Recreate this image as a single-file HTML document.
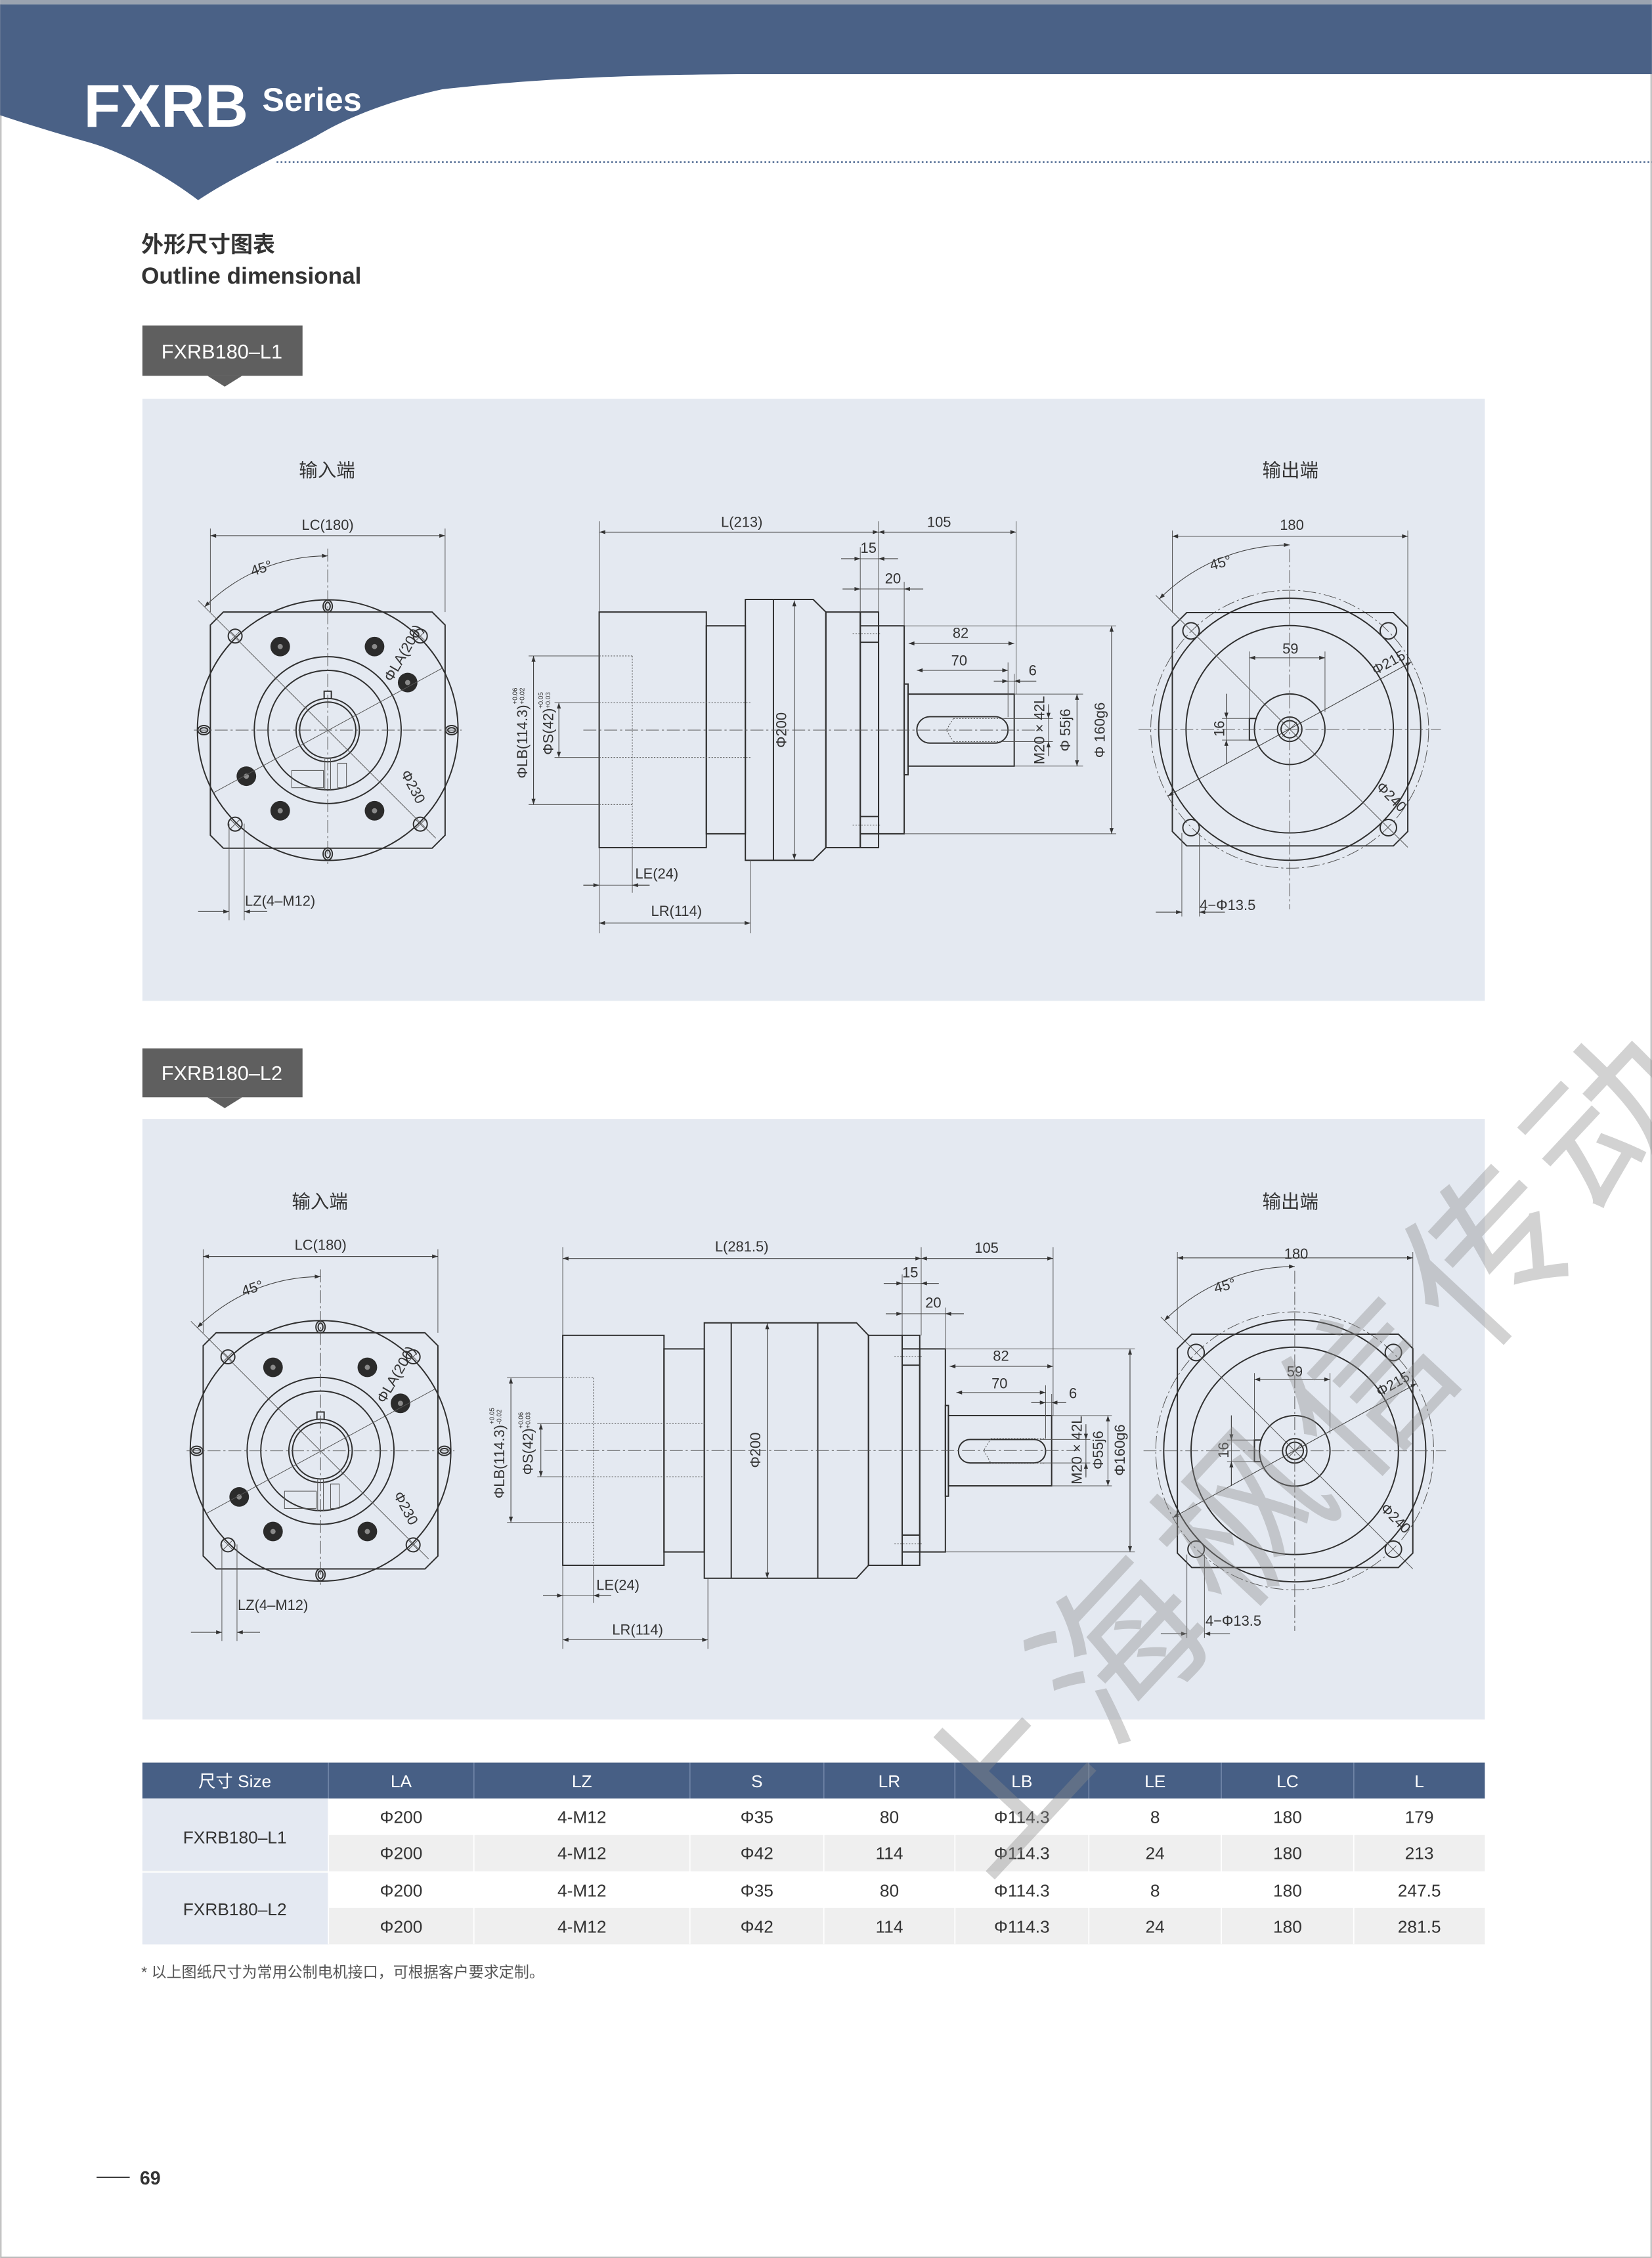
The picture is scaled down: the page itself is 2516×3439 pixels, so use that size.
<!DOCTYPE html>
<html><head><meta charset="utf-8"><style>
html,body{margin:0;padding:0;background:#fff}
svg{display:block}
.o{fill:none;stroke:#2f2f2f;stroke-width:0.9}
.t{fill:none;stroke:#555;stroke-width:0.45}
.c{fill:none;stroke:#555;stroke-width:0.45;stroke-dasharray:9 2 1.5 2}
.d{fill:none;stroke:#555;stroke-width:0.45;stroke-dasharray:1 1}
.m{fill:none;stroke:#444;stroke-width:0.5;marker-start:url(#ar);marker-end:url(#ar)}
.me{fill:none;stroke:#444;stroke-width:0.5;marker-end:url(#ar)}
text{font-family:"Liberation Sans","Noto Sans CJK SC",sans-serif;fill:#333}
.dt{font-size:10px}
.dm{font-size:10px;text-anchor:middle}
.th{font-size:12px;fill:#fff;text-anchor:middle}
.tb{font-size:12px;fill:#333;text-anchor:middle}
</style></head><body>
<svg width="2516" height="3439" viewBox="0 0 1147 1568" xmlns="http://www.w3.org/2000/svg">
<defs>
<marker id="ar" viewBox="0 0 10 10" refX="10" refY="5" markerWidth="5" markerHeight="4" orient="auto-start-reverse" markerUnits="userSpaceOnUse"><path d="M0,1.5L10,5L0,8.5Z" fill="#333"/></marker>
<g id="lv">
 <circle r="90.5" class="o"/>
 <g class="o">
  <ellipse cx="0" cy="-86" rx="3.2" ry="4.2"/><ellipse cx="0" cy="-86" rx="1.7" ry="2.7"/>
  <ellipse cx="0" cy="86" rx="3.2" ry="4.2"/><ellipse cx="0" cy="86" rx="1.7" ry="2.7"/>
  <ellipse cx="-86" cy="0" rx="4.2" ry="3.2"/><ellipse cx="-86" cy="0" rx="2.7" ry="1.7"/>
  <ellipse cx="86" cy="0" rx="4.2" ry="3.2"/><ellipse cx="86" cy="0" rx="2.7" ry="1.7"/>
 </g>
 <path d="M-72.5,-82H72.5L81.5,-73V73L72.5,82H-72.5L-81.5,73V-73Z" fill="#e4e9f1" class="o"/>
 <g class="o">
  <circle cx="-64.3" cy="-65.3" r="4.8"/><circle cx="64.3" cy="-65.3" r="4.8"/>
  <circle cx="-64.3" cy="65.3" r="4.8"/><circle cx="64.3" cy="65.3" r="4.8"/>
 </g>
 <path class="t" d="M-67.3,-68.3l6,6m0,-6l-6,6M61.3,-68.3l6,6m0,-6l-6,6M-67.3,62.3l6,6m0,-6l-6,6M61.3,62.3l6,6m0,-6l-6,6"/>
 <g fill="#2b2b2b">
  <circle cx="-33" cy="-58" r="6.8"/><circle cx="32.5" cy="-58" r="6.8"/><circle cx="55.5" cy="-33" r="6.8"/>
  <circle cx="-56.5" cy="32" r="6.8"/><circle cx="-33" cy="56" r="6.8"/><circle cx="32.5" cy="56" r="6.8"/>
 </g>
 <g fill="#8a8a8a">
  <circle cx="-33" cy="-58" r="1.8"/><circle cx="32.5" cy="-58" r="1.8"/><circle cx="55.5" cy="-33" r="1.8"/>
  <circle cx="-56.5" cy="32" r="1.8"/><circle cx="-33" cy="56" r="1.8"/><circle cx="32.5" cy="56" r="1.8"/>
 </g>
 <circle r="51" class="o"/><circle r="41.5" class="o"/>
 <circle r="22" class="o"/><circle r="19.5" class="o"/>
 <path class="o" d="M-2.5,-21.5V-27H2.5V-21.5"/>
 <path class="t" d="M-2,20V42M2,20V42"/>
 <rect x="-25" y="28" width="22" height="12" class="t"/><rect x="7" y="23" width="6" height="17" class="t"/>
 <path class="c" d="M-93,0H93M0,-126V93"/>
 <path class="t" d="M-90,-90L75,75M-79.5,43.6L79.5,-43"/>
 <path class="m" d="M-85.56,-85.56A121,121 0 0,1 0,-121"/>
 <path class="t" d="M-81.5,-140V-82M81.5,-140V-82M-68.5,65V132M-58,65V132"/>
 <path class="m" d="M-81.5,-135H81.5"/>
 <path class="me" d="M-90,126H-68.5"/><path class="me" d="M-42,126H-58"/>
</g>
<g id="rv">
 <circle r="96.5" class="c"/>
 <circle r="91" class="o"/>
 <path d="M-71.5,-81H72L82,-71V71L72,81H-71.5L-81.5,71V-71Z" fill="#e4e9f1" class="o"/>
 <circle r="72" class="o"/>
 <circle r="24.5" class="o"/><circle r="8.5" class="o"/><circle r="6" class="o"/>
 <path class="o" d="M-23.5,-7.5H-28V7.5H-23.5"/>
 <g class="o">
  <circle cx="-68.5" cy="-68.3" r="5.7"/><circle cx="68.5" cy="-68.3" r="5.7"/>
  <circle cx="-68.5" cy="68.3" r="5.7"/><circle cx="68.5" cy="68.3" r="5.7"/>
 </g>
 <path class="c" d="M-105,0H105M0,-125V125"/>
 <path class="t" d="M-93,-93L82,82M-5,-5L5,5M-5,5L5,-5"/>
 <path class="m" d="M-84.7,46.4L84.5,-46.7"/>
 <path class="m" d="M-90.5,-90.5A128,128 0 0,1 0,-128"/>
 <path class="t" d="M-28,-54V-8M24.5,-54V-12M-47,-7.5H-28M-47,7.5H-28M-81.5,-138V-81M82,-138V-71M-74.9,72V130M-62.7,72V130"/>
 <path class="m" d="M-28,-49.6H24.5"/>
 <path class="t" d="M-44,-24.6V24.3"/>
 <path class="me" d="M-44,-24.6V-7.5"/><path class="me" d="M-44,24.3V7.5"/>
 <path class="m" d="M-81.5,-134H82"/>
 <path class="me" d="M-93,127H-74.9"/><path class="me" d="M-45,127H-62.7"/>
</g>
</defs>

<rect x="0.5" y="0.5" width="1146" height="1567" fill="none" stroke="#bbb" stroke-width="1"/>
<rect x="0" y="0" width="1147" height="3" fill="#9aa3b0"/>
<path d="M0,3H1147V51.5H512C420,52 360,56 307,62C270,70 240,82 219.5,94.5C190,110 160,124 137.5,139C115,122 85,105 58.5,98C38,92 18,86 0,80Z" fill="#4a6186"/>
<line x1="192" y1="112.5" x2="1147" y2="112.5" stroke="#5a7399" stroke-width="1.2" stroke-dasharray="1.2 1.6"/>
<text x="58" y="88" font-size="42" font-weight="bold" style="fill:#fff">FXRB</text>
<text x="182" y="77" font-size="23" font-weight="bold" style="fill:#fff">Series</text>
<text x="98" y="175" font-size="15.5" font-weight="bold" style="fill:#333">外形尺寸图表</text>
<text x="98" y="197" font-size="16" font-weight="bold" style="fill:#333">Outline dimensional</text>

<rect x="98.8" y="226" width="111.2" height="35" fill="#5f5f5f"/>
<path d="M144,261L168,261L156,268.5Z" fill="#5f5f5f"/>
<text x="154" y="249" font-size="14" text-anchor="middle" style="fill:#fff">FXRB180–L1</text>
<rect x="98.8" y="277" width="932.2" height="418" fill="#e4e9f1"/>
<text x="227" y="331" font-size="13" text-anchor="middle">输入端</text>
<text x="896" y="331" font-size="13" text-anchor="middle">输出端</text>

<use href="#lv" transform="translate(227.5,507)"/>
<use href="#rv" transform="translate(895.5,506.4)"/>
<text class="dm" x="227.5" y="368">LC(180)</text>
<text class="dt" x="174" y="398" transform="rotate(-18 181 395)">45°</text>
<text class="dt" transform="translate(272,474) rotate(-60)">ΦLA(200)</text>
<text class="dt" transform="translate(278,537) rotate(62)">Φ230</text>
<text class="dt" x="170" y="629">LZ(4–M12)</text>
<text class="dm" x="897" y="368">180</text>
<text class="dt" transform="translate(841,396) rotate(-15)">45°</text>
<text class="dm" x="896" y="454">59</text>
<text class="dm" transform="translate(850,506) rotate(-90)">16</text>
<text class="dt" transform="translate(955,469) rotate(-29)">Φ215</text>
<text class="dt" transform="translate(955,547) rotate(45)">Φ240</text>
<text class="dt" x="833" y="632">4−Φ13.5</text>

<g>
 <rect x="416" y="425" width="74.4" height="163.6" class="o"/>
 <rect x="490.4" y="434.6" width="27.1" height="144.4" class="o"/>
 <path class="o" d="M517.5,416.3H564.6L573.4,425V588.6L564.6,597.4H517.5ZM537,416.3V597.4"/>
 <path class="m" d="M551.5,417V597"/>
 <rect x="573.4" y="425" width="23.9" height="163.6" class="o"/>
 <rect x="597.3" y="425" width="12.7" height="163.6" class="o"/>
 <path class="o" d="M597.3,434.6H610M597.3,446H610M597.3,567H610M597.3,579H610"/>
 <path class="d" d="M592,440H612M592,573H612"/>
 <rect x="610" y="434.6" width="17.8" height="144.4" class="o"/>
 <rect x="627.8" y="475" width="2.7" height="63" class="o"/>
 <rect x="630.5" y="482" width="73.7" height="50" class="o"/>
 <rect x="636.6" y="497.7" width="63.3" height="18.3" rx="9" class="o"/>
 <path class="d" d="M662,499H700M662,515H700M662,499L657,507L662,515"/>
 <path class="c" d="M405,507H722"/>
 <path class="t" d="M416.2,362V425M610,362V425M705.5,362V482M597.3,380V425M627.8,404V434.6M699.9,460V498M704.2,468V482M627.8,434.6H775M627.8,579H775M704.2,482H752M704.2,532H752M697,499H731M697,515H731M367,455.5H416M367,558.7H416M385,488H416M385,526H416M416,588.6V648M521,597.4V648M439,588.6V620"/>
 <path class="d" d="M416,455.5H439M416,558.7H439M416,488H521M416,526H521M439,455.5V588.6"/>
 <path class="m" d="M416.2,369.5H610"/><path class="m" d="M610,369.5H705.5"/>
 <path class="t" d="M584,388H623.5"/><path class="me" d="M584,388H597.3"/><path class="me" d="M623.5,388H610"/>
 <path class="t" d="M597.3,409H641"/><path class="me" d="M641,409H627.8"/><path class="me" d="M585,409H597.3"/>
 <path class="m" d="M630.9,446.8H704.2"/><path class="m" d="M636.6,465.5H699.9"/>
 <path class="t" d="M690,473H719.5"/><path class="me" d="M690,473H699.9"/><path class="me" d="M719.5,473H704.2"/>
 <path class="m" d="M771.8,434.6V579"/><path class="m" d="M747.8,482V532"/>
 <path class="t" d="M728,490V525"/><path class="me" d="M728,489V499"/><path class="me" d="M728,525V515"/>
 <path class="m" d="M370.4,455.5V558.7"/><path class="m" d="M388,488V526"/>
 <path class="t" d="M405,614.7H451"/><path class="me" d="M405,614.7H416"/><path class="me" d="M451,614.7H439"/>
 <path class="m" d="M416,641H521"/>
</g>
<text class="dm" x="515" y="366">L(213)</text>
<text class="dm" x="652" y="366">105</text>
<text class="dm" x="603" y="384">15</text>
<text class="dm" x="620" y="405">20</text>
<text class="dm" x="667" y="443">82</text>
<text class="dm" x="666" y="462">70</text>
<text class="dm" x="717" y="469">6</text>
<text class="dm" transform="translate(546,507) rotate(-90)">Φ200</text>
<text class="dm" transform="translate(725,507) rotate(-90)">M20 × 42L</text>
<text class="dm" transform="translate(743,507) rotate(-90)">Φ 55j6</text>
<text class="dm" transform="translate(767,507) rotate(-90)">Φ 160g6</text>
<text class="dm" transform="translate(366,515) rotate(-90)">ΦLB(114.3)</text>
<text font-size="4.5" transform="translate(359,489) rotate(-90)">+0.06</text>
<text font-size="4.5" transform="translate(364,489) rotate(-90)">+0.02</text>
<text class="dm" transform="translate(384,508) rotate(-90)">ΦS(42)</text>
<text font-size="4.5" transform="translate(377,492) rotate(-90)">+0.05</text>
<text font-size="4.5" transform="translate(382,492) rotate(-90)">+0.03</text>
<text class="dt" x="441" y="610">LE(24)</text>
<text class="dt" x="452" y="636">LR(114)</text>

<rect x="98.8" y="728" width="111.2" height="34" fill="#5f5f5f"/>
<path d="M144,762L168,762L156,769.5Z" fill="#5f5f5f"/>
<text x="154" y="750" font-size="14" text-anchor="middle" style="fill:#fff">FXRB180–L2</text>
<rect x="98.8" y="777" width="932.2" height="417" fill="#e4e9f1"/>
<text x="222" y="839" font-size="13" text-anchor="middle">输入端</text>
<text x="896" y="839" font-size="13" text-anchor="middle">输出端</text>

<use href="#lv" transform="translate(222.5,1007.5)"/>
<use href="#rv" transform="translate(899,1007.5)"/>
<text class="dm" x="222.5" y="868">LC(180)</text>
<text class="dt" transform="translate(169,900) rotate(-18)">45°</text>
<text class="dt" transform="translate(267,975) rotate(-60)">ΦLA(200)</text>
<text class="dt" transform="translate(273,1038) rotate(62)">Φ230</text>
<text class="dt" x="165" y="1118">LZ(4–M12)</text>
<text class="dm" x="900" y="874">180</text>
<text class="dt" transform="translate(844,898) rotate(-15)">45°</text>
<text class="dm" x="899" y="956">59</text>
<text class="dm" transform="translate(853,1007) rotate(-90)">16</text>
<text class="dt" transform="translate(958,970) rotate(-29)">Φ215</text>
<text class="dt" transform="translate(958,1048) rotate(45)">Φ240</text>
<text class="dt" x="837" y="1129">4−Φ13.5</text>

<g>
 <rect x="390.7" y="927.3" width="70.3" height="159.7" class="o"/>
 <rect x="461" y="936.7" width="28" height="141" class="o"/>
 <path class="o" d="M489,918.6H594.7L603,927.3V1087L594.7,1096H489ZM507.7,918.6V1096M567.8,918.6V1096"/>
 <path class="m" d="M532.7,919V1096"/>
 <rect x="603" y="927.3" width="23.4" height="159.7" class="o"/>
 <rect x="626.4" y="927.3" width="12.2" height="159.7" class="o"/>
 <path class="o" d="M626.4,936.7H638.6M626.4,948H638.6M626.4,1066H638.6M626.4,1077.7H638.6"/>
 <path class="d" d="M621,942H641M621,1072H641"/>
 <rect x="638.6" y="936.7" width="17.8" height="141" class="o"/>
 <rect x="656.4" y="976" width="2.1" height="63" class="o"/>
 <rect x="658.5" y="983" width="71.7" height="48.8" class="o"/>
 <rect x="665.5" y="999.6" width="60.5" height="16.3" rx="8" class="o"/>
 <path class="d" d="M688,999H726M688,1016H726M688,999L683,1007.3L688,1016"/>
 <path class="c" d="M378,1007.3H748"/>
 <path class="t" d="M390.7,866V927.3M639.6,866V927.3M731.2,866V983M626.4,885V927.3M656.4,908V936.7M726,962V999M730.2,968V983M656.4,936.7H788M656.4,1077.7H788M730.2,983H772M730.2,1031.8H772M722,999.6H757M722,1015.9H757M352,956.8H390.7M352,1057.2H390.7M373,988.7H390.7M373,1025.5H390.7M390.7,1087V1145M491.5,1096V1145M412,1087V1113"/>
 <path class="d" d="M390.7,956.8H412M390.7,1057.2H412M390.7,988.7H489M390.7,1025.5H489M412,956.8V1087"/>
 <path class="m" d="M390.7,873.9H639.6"/><path class="m" d="M639.6,873.9H731.2"/>
 <path class="t" d="M613.6,891.2H651.8"/><path class="me" d="M613.6,891.2H626.4"/><path class="me" d="M651.8,891.2H639.6"/>
 <path class="t" d="M626.4,912.3H669.2"/><path class="me" d="M669.2,912.3H656.4"/><path class="me" d="M615,912.3H626.4"/>
 <path class="m" d="M659.4,948.8H731.2"/><path class="m" d="M664,967H726"/>
 <path class="t" d="M716,974H740.3"/><path class="me" d="M716,974H726"/><path class="me" d="M740.3,974H730.2"/>
 <path class="m" d="M784.6,936.7V1077.7"/><path class="m" d="M769.3,983V1031.8"/>
 <path class="t" d="M754,990V1025"/><path class="me" d="M754,989V999.6"/><path class="me" d="M754,1026V1015.9"/>
 <path class="m" d="M354.7,956.8V1057.2"/><path class="m" d="M375.5,988.7V1025.5"/>
 <path class="t" d="M377,1108H424.3"/><path class="me" d="M377,1108H390.7"/><path class="me" d="M424.3,1108H412"/>
 <path class="m" d="M390.7,1138.7H491.5"/>
</g>
<text class="dm" x="515" y="869">L(281.5)</text>
<text class="dm" x="685" y="870">105</text>
<text class="dm" x="632" y="887">15</text>
<text class="dm" x="648" y="908">20</text>
<text class="dm" x="695" y="945">82</text>
<text class="dm" x="694" y="964">70</text>
<text class="dm" x="745" y="971">6</text>
<text class="dm" transform="translate(528,1007) rotate(-90)">Φ200</text>
<text class="dm" transform="translate(751,1007) rotate(-90)">M20 × 42L</text>
<text class="dm" transform="translate(766,1007) rotate(-90)">Φ55j6</text>
<text class="dm" transform="translate(781,1007) rotate(-90)">Φ160g6</text>
<text class="dm" transform="translate(350,1015) rotate(-90)">ΦLB(114.3)</text>
<text font-size="4.5" transform="translate(343,989) rotate(-90)">+0.05</text>
<text font-size="4.5" transform="translate(348,989) rotate(-90)">-0.02</text>
<text class="dm" transform="translate(370,1008) rotate(-90)">ΦS(42)</text>
<text font-size="4.5" transform="translate(363,992) rotate(-90)">+0.06</text>
<text font-size="4.5" transform="translate(368,992) rotate(-90)">+0.03</text>
<text class="dt" x="414" y="1104">LE(24)</text>
<text class="dt" x="425" y="1135">LR(114)</text>

<rect x="98.8" y="1224" width="932.2" height="25" fill="#475f85"/>
<g stroke="#6f84a6" stroke-width="0.8">
 <path d="M228,1224V1249M329,1224V1249M479,1224V1249M572,1224V1249M663,1224V1249M756,1224V1249M848,1224V1249M940,1224V1249"/>
</g>
<rect x="98.8" y="1249" width="932.2" height="25.3" fill="#ffffff"/>
<rect x="98.8" y="1274.3" width="932.2" height="25.3" fill="#efefef"/>
<rect x="98.8" y="1299.6" width="932.2" height="25.3" fill="#ffffff"/>
<rect x="98.8" y="1324.9" width="932.2" height="25.3" fill="#efefef"/>
<rect x="98.8" y="1249" width="129" height="50" fill="#e4e9f2"/>
<rect x="98.8" y="1300.4" width="129" height="49.8" fill="#e4e9f2"/>
<g stroke="#fff" stroke-width="0.8">
 <path d="M228,1249V1350M329,1249V1350M479,1249V1350M572,1249V1350M663,1249V1350M756,1249V1350M848,1249V1350M940,1249V1350"/>
</g>
<text class="th" x="163" y="1241">尺寸 Size</text>
<text class="th" x="278.5" y="1241">LA</text>
<text class="th" x="404" y="1241">LZ</text>
<text class="th" x="525.5" y="1241">S</text>
<text class="th" x="617.5" y="1241">LR</text>
<text class="th" x="709.5" y="1241">LB</text>
<text class="th" x="802" y="1241">LE</text>
<text class="th" x="894" y="1241">LC</text>
<text class="th" x="985.5" y="1241">L</text>
<text class="tb" x="163" y="1280" font-size="13">FXRB180–L1</text>
<text class="tb" x="163" y="1330" font-size="13">FXRB180–L2</text>
<text class="tb" x="278.5" y="1266">Φ200</text><text class="tb" x="404" y="1266">4-M12</text><text class="tb" x="525.5" y="1266">Φ35</text><text class="tb" x="617.5" y="1266">80</text><text class="tb" x="709.5" y="1266">Φ114.3</text><text class="tb" x="802" y="1266">8</text><text class="tb" x="894" y="1266">180</text><text class="tb" x="985.5" y="1266">179</text>
<text class="tb" x="278.5" y="1291">Φ200</text><text class="tb" x="404" y="1291">4-M12</text><text class="tb" x="525.5" y="1291">Φ42</text><text class="tb" x="617.5" y="1291">114</text><text class="tb" x="709.5" y="1291">Φ114.3</text><text class="tb" x="802" y="1291">24</text><text class="tb" x="894" y="1291">180</text><text class="tb" x="985.5" y="1291">213</text>
<text class="tb" x="278.5" y="1317">Φ200</text><text class="tb" x="404" y="1317">4-M12</text><text class="tb" x="525.5" y="1317">Φ35</text><text class="tb" x="617.5" y="1317">80</text><text class="tb" x="709.5" y="1317">Φ114.3</text><text class="tb" x="802" y="1317">8</text><text class="tb" x="894" y="1317">180</text><text class="tb" x="985.5" y="1317">247.5</text>
<text class="tb" x="278.5" y="1342">Φ200</text><text class="tb" x="404" y="1342">4-M12</text><text class="tb" x="525.5" y="1342">Φ42</text><text class="tb" x="617.5" y="1342">114</text><text class="tb" x="709.5" y="1342">Φ114.3</text><text class="tb" x="802" y="1342">24</text><text class="tb" x="894" y="1342">180</text><text class="tb" x="985.5" y="1342">281.5</text>
<text x="98" y="1373" font-size="10.5" style="fill:#555">* 以上图纸尺寸为常用公制电机接口，可根据客户要求定制。</text>

<text transform="translate(684,1307) rotate(-47)" font-size="115" letter-spacing="10" style="fill:#8c8c8c;opacity:0.38;font-family:'Noto Sans CJK SC',sans-serif">上海枫信传动</text>

<line x1="67" y1="1512" x2="90" y2="1512" stroke="#333" stroke-width="0.8"/>
<text x="97" y="1517" font-size="13" font-weight="bold">69</text>
</svg>
</body></html>
